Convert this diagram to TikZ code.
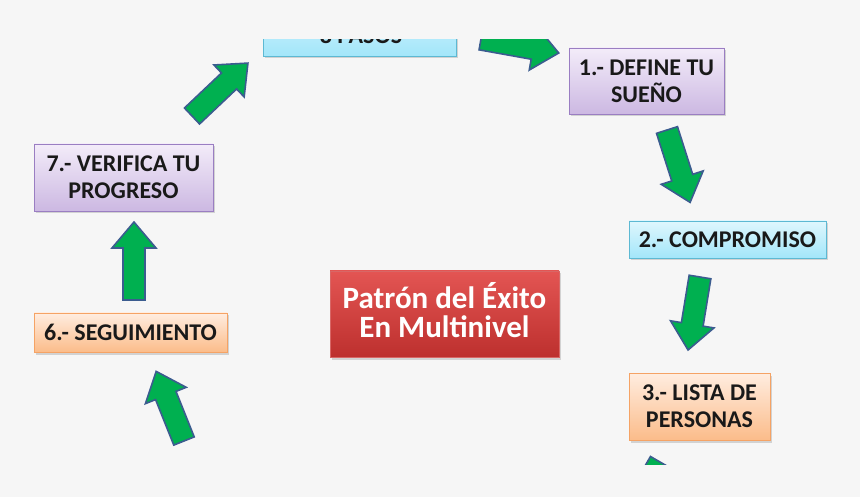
\documentclass[tikz,border=0pt]{standalone}
\usepackage{fontspec}
\setmainfont{Carlito}
\usepackage{xcolor}
\usetikzlibrary{shadows}

\definecolor{fondo}{HTML}{F6F6F6}
\definecolor{verde}{HTML}{00B050}
\definecolor{azulborde}{HTML}{3B5C8F}
\definecolor{morado1}{HTML}{F3ECF9}
\definecolor{morado2}{HTML}{CCB8E2}
\definecolor{bordemorado}{HTML}{9A7EC2}
\definecolor{cian1}{HTML}{DFF7FD}
\definecolor{cian2}{HTML}{A3E6FA}
\definecolor{bordecian}{HTML}{5DB9D3}
\definecolor{naranja1}{HTML}{FFEDE0}
\definecolor{naranja2}{HTML}{FBBC8A}
\definecolor{bordenaranja}{HTML}{F5A365}
\definecolor{rojo1}{HTML}{E35553}
\definecolor{rojo2}{HTML}{BD302E}
\definecolor{borderojo}{HTML}{D86766}

\tikzset{
  caja/.style={rectangle, draw, line width=0.9pt, inner sep=0pt, align=center,
    font=\fontsize{24}{27}\selectfont\bfseries, text=black!90,
    drop shadow={shadow xshift=1.5pt, shadow yshift=-2.5pt, opacity=0.3}},
  morada/.style={caja, draw=bordemorado, top color=morado1, bottom color=morado2},
  celeste/.style={caja, draw=bordecian, top color=cian1, bottom color=cian2},
  anaranjada/.style={caja, draw=bordenaranja, top color=naranja1, bottom color=naranja2},
  roja/.style={caja, draw=borderojo, top color=rojo1, bottom color=rojo2,
    text=white, font=\fontsize{31}{29}\selectfont\bfseries, text depth=9pt},
  flecha/.style={fill=verde, draw=azulborde, line width=1.6pt, line join=miter},
}

% flecha de bloque: cola, angulo, largo
\newcommand{\flechaverde}[3]{%
  \begin{scope}[shift={#1}, rotate=#2]
    \draw[flecha] (0,-11) -- ({#3-26},-11) -- ({#3-26},-22) -- (#3,0)
      -- ({#3-26},22) -- ({#3-26},11) -- (0,11) -- cycle;
  \end{scope}}

\begin{document}
\begin{tikzpicture}[x=1pt, y=-1pt]
  \fill[fondo] (0,0) rectangle (860,497);
  \begin{scope}
    \clip (0,40) rectangle (860,464);

    % cajas
    \node[celeste, minimum width=193pt, minimum height=66pt] (pasos) at (359.5,23) {};
    \node[font=\fontsize{24}{27}\selectfont\bfseries, text=black!90, anchor=base] (pasostxt) at (361,43.5) {8 PASOS};
    \node[morada, minimum width=155pt, minimum height=66pt] (paso1) at (646.5,81) {1.- DEFINE TU\\SUEÑO};
    \node[celeste, minimum width=197pt, minimum height=37pt] (paso2) at (727.5,239.5) {2.- COMPROMISO};
    \node[anaranjada, minimum width=141pt, minimum height=67pt] (paso3) at (699.5,406.5) {3.- LISTA DE\\PERSONAS};
    \node[anaranjada, minimum width=193pt, minimum height=39pt] (paso6) at (130.5,332.5) {6.- SEGUIMIENTO};
    \node[morada, minimum width=179pt, minimum height=67pt] (paso7) at (123.5,177.5) {7.- VERIFICA TU\\PROGRESO};
    \node[roja, minimum width=229pt, minimum height=86pt] (titulo) at (444.5,314) {Patrón del Éxito\\En Multinivel};

    % flechas
    \flechaverde{(192,116)}{43.4}{77}
    \flechaverde{(481,39)}{-10.2}{79}
    \flechaverde{(667,130)}{-72.3}{76}
    \flechaverde{(700,277)}{-99.3}{74}
    \flechaverde{(660,462)}{-120}{75}
    \flechaverde{(184,441)}{111.8}{75}
    \flechaverde{(134,300)}{90}{78}
  \end{scope}
\end{tikzpicture}
\end{document}
